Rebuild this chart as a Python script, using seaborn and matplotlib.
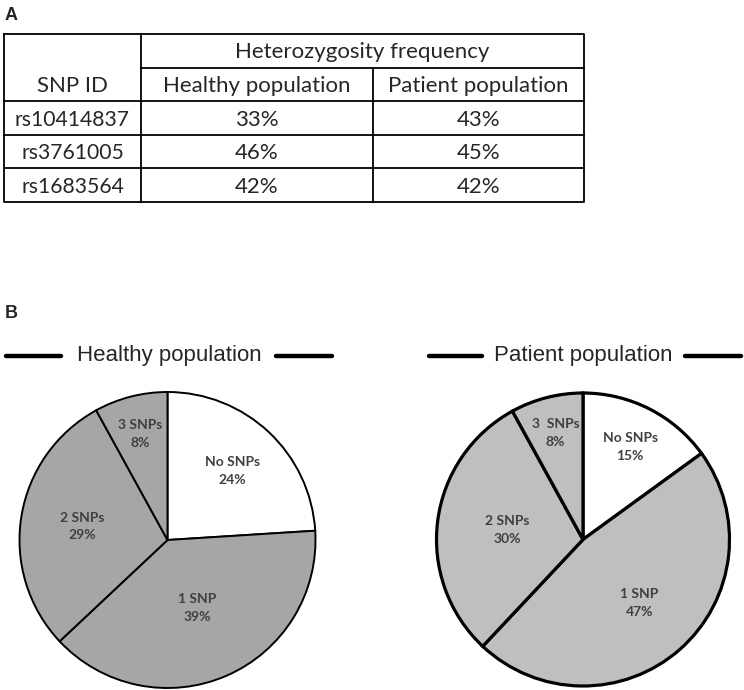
import numpy as np
import pandas as pd
import matplotlib
matplotlib.use("Agg")
import matplotlib.pyplot as plt
import seaborn as sns

# panel A data
snp_ids = ["rs10414837", "rs3761005", "rs1683564"]
healthy_het = [33, 46, 42]
patient_het = [43, 45, 42]

# panel B data
snp_groups = ["No SNPs", "1 SNP", "2 SNPs", "3 SNPs"]
patient_groups = ["No SNPs", "1 SNP", "2 SNPs", "3  SNPs"]
healthy_pct = [24, 39, 29, 8]
patient_pct = [15, 47, 30, 8]

sns.set_theme(style="white")
plt.rcParams["font.family"] = ["Lato", "DejaVu Sans"]

W, H = 744, 690
fig = plt.figure(figsize=(W / 100, H / 100), dpi=100)


def fpos(x0, y0, x1, y1):
    # pixel box -> figure fraction [l, b, w, h]
    return [x0 / W, 1 - y1 / H, (x1 - x0) / W, (y1 - y0) / H]


# ---------- A: table ----------
tab = pd.DataFrame({"SNP ID": snp_ids,
                    "Healthy population": healthy_het,
                    "Patient population": patient_het})

ax_t = fig.add_axes(fpos(4, 34, 584, 202))
col_edges = [0, 137, 369, 580]
ax_t.set_xlim(0, 580)
ax_t.set_ylim(5, 0)
ax_t.axis("off")
lw = 1.3
kw = dict(color="black", lw=lw, solid_capstyle="projecting", clip_on=False)
# outer box
ax_t.plot([0, 580, 580, 0, 0], [0, 0, 5, 5, 0], **kw)
# horizontal lines
ax_t.plot([col_edges[1], 580], [1, 1], **kw)
for r in range(2, 5):
    ax_t.plot([0, 580], [r, r], **kw)
ax_t.plot([col_edges[1]] * 2, [0, 5], **kw)
ax_t.plot([col_edges[2]] * 2, [1, 5], **kw)

tfs = 16
ax_t.text((col_edges[1] + 580) / 2, 0.55, "Heterozygosity frequency",
          ha="center", va="center", fontsize=tfs)
for j, col in enumerate(tab.columns):
    ax_t.text((col_edges[j] + col_edges[j + 1]) / 2, 1.55, col,
              ha="center", va="center", fontsize=tfs)
for i, row in tab.iterrows():
    ax_t.text((col_edges[0] + col_edges[1]) / 2, 2.55 + i, row["SNP ID"],
              ha="center", va="center", fontsize=15.2)
    ax_t.text((col_edges[1] + col_edges[2]) / 2, 2.55 + i,
              f"{row['Healthy population']}%", ha="center", va="center", fontsize=tfs)
    ax_t.text((col_edges[2] + col_edges[3]) / 2, 2.55 + i,
              f"{row['Patient population']}%", ha="center", va="center", fontsize=tfs)

fig.text(5 / W, 1 - 15 / H, "A", fontsize=13, fontweight="bold",
         family="Liberation Sans", ha="left", va="center")
fig.text(5 / W, 1 - 313 / H, "B", fontsize=13, fontweight="bold",
         family="Liberation Sans", ha="left", va="center")


# ---------- B: pies ----------
def draw_pie(box, labels, pct, gray, lw_edge, title, title_x, lines, dists):
    ax = fig.add_axes(fpos(*box))
    colors = ["white"] + [gray] * (len(pct) - 1)
    txt = [f"{l}\n{p}%" for l, p in zip(labels, pct)]
    wedges, texts = ax.pie(pct, labels=txt, colors=colors, startangle=90,
                           counterclock=False, labeldistance=0.64,
                           wedgeprops=dict(edgecolor="black", linewidth=lw_edge),
                           textprops=dict(fontsize=10, fontweight="bold",
                                          color="#404040", ha="center",
                                          va="center", linespacing=1.55))
    # label placement differs a bit per slice in the original
    for w, t, d in zip(wedges, texts, dists):
        ang = np.deg2rad((w.theta1 + w.theta2) / 2)
        t.set_position((d * np.cos(ang), d * np.sin(ang)))
    ax.set_xlim(-1.0, 1.0)
    ax.set_ylim(-1.0, 1.0)
    ax.set_aspect("equal")
    fig.text(title_x / W, 1 - 356 / H, title, fontsize=16,
             family="Liberation Sans", ha="center", va="center")
    for x0, x1 in lines:
        fig.add_artist(plt.Line2D([x0 / W, x1 / W], [1 - 356 / H] * 2,
                                  color="black", lw=3.2, solid_capstyle="round"))


draw_pie((19, 392, 316, 688), snp_groups, healthy_pct, "#a6a6a6", 1.4,
         "Healthy population", 169, [(6, 61), (276, 332)],
         [0.64, 0.50, 0.58, 0.74])
draw_pie((435, 393, 731, 686), patient_groups, patient_pct, "#bfbfbf", 2.3,
         "Patient population", 583, [(429, 482), (685, 741)],
         [0.71, 0.58, 0.52, 0.75])

fig.savefig("out.png", dpi=100)
